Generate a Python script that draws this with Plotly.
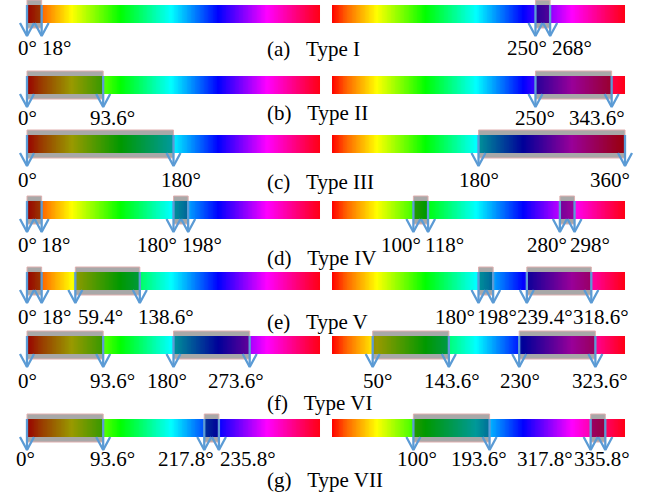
import numpy as np
import plotly.graph_objects as go

# ---------------- data ----------------
type_names = ["(a)\u00a0\u00a0\u00a0Type I", "(b)\u00a0\u00a0\u00a0Type II",
              "(c)\u00a0\u00a0\u00a0Type III", "(d)\u00a0\u00a0\u00a0Type IV",
              "(e)\u00a0\u00a0\u00a0Type V", "(f)\u00a0\u00a0\u00a0Type VI",
              "(g)\u00a0\u00a0\u00a0Type VII"]
left_regions = [
    [(0, 18)],
    [(0, 93.6)],
    [(0, 180)],
    [(0, 18), (180, 198)],
    [(0, 18), (59.4, 138.6)],
    [(0, 93.6), (180, 273.6)],
    [(0, 93.6), (217.8, 235.8)],
]
right_regions = [
    [(250, 268)],
    [(250, 343.6)],
    [(180, 360)],
    [(100, 118), (280, 298)],
    [(180, 198), (239.4, 318.6)],
    [(50, 143.6), (230, 323.6)],
    [(100, 193.6), (317.8, 335.8)],
]

# ---------------- layout / style ----------------
W, H = 645, 493
bar_top = [5, 76, 135, 201, 272, 336, 419]
bar_h = 18
box_pad = 5
tip_drop = 13
label_y = [48, 118, 180, 245, 317, 381, 459]
caption_y = [49, 113, 182, 258, 322, 403, 480]
caption_x = 265
# horizontal pixel shift of each edge label (start, end, start, end)
left_shift = [[0, 15], [0, 9], [0, 7], [0, 14, -17, 14], [0, 15, 25, 26],
              [0, 9, -7, -14], [-2, 9, -18, 29]]
right_shift = [[-8, 22], [0, -15], [0, -15], [-12, 16, -13, 15], [-24, 4, 18, 10],
               [5, 3, 1, 5], [4, -11, -46, -3]]

col_px = [(27, 320), (332, 625)]   # pixel span of 0..360 degrees
pad_deg = 20
FONT = "Liberation Serif, Times New Roman, serif"
ARROW_COLOR = "#5b9bd5"

hue_stops = [(0, (255, 0, 0)), (18, (255, 100, 0)), (55, (255, 255, 0)),
             (115, (0, 255, 0)), (177, (0, 255, 255)), (235, (0, 0, 255)),
             (295, (255, 0, 255)), (345, (255, 0, 70)), (360, (255, 0, 20))]


def scale(f):
    return [[h / 360, "rgb(%d,%d,%d)" % tuple(int(c * f) for c in rgb)] for h, rgb in hue_stops]


bright = scale(1.0)
dark = scale(0.6)

fig = go.Figure()
layout_axes = {}
shapes = []
annotations = []

cols = [("x", "xaxis", left_regions, left_shift), ("x2", "xaxis2", right_regions, right_shift)]
for ci, (xref, axname, regions, shifts) in enumerate(cols):
    p0, p1 = col_px[ci]
    ppd = (p1 - p0) / 360.0
    d0 = (p0 - pad_deg * ppd) / W
    d1 = (p1 + pad_deg * ppd) / W
    layout_axes[axname] = dict(domain=[d0, d1], range=[-pad_deg, 360 + pad_deg],
                               visible=False, fixedrange=True)
    wing = 7 / ppd
    ax_x, ax_y = [], []
    for ri in range(7):
        top = bar_top[ri]
        bot = top + bar_h
        edges = np.arange(0, 361, 1.0)
        centers = (edges[:-1] + edges[1:]) / 2
        fig.add_trace(go.Heatmap(x=edges, y=[top, bot], z=[centers], zmin=0, zmax=360,
                                 colorscale=bright, showscale=False, hoverinfo="skip",
                                 xaxis=xref, yaxis="y"))
        for k, (a, b) in enumerate(regions[ri]):
            e = np.linspace(a, b, max(int(b - a) + 1, 2))
            c = (e[:-1] + e[1:]) / 2
            fig.add_trace(go.Heatmap(x=e, y=[top, bot], z=[c], zmin=0, zmax=360,
                                     colorscale=dark, showscale=False, hoverinfo="skip",
                                     xaxis=xref, yaxis="y"))
            shapes.append(dict(type="rect", xref=xref, yref="y", x0=a, x1=b,
                               y0=top - box_pad, y1=bot + box_pad, layer="below",
                               fillcolor="#a8a8a8", line=dict(color="#e0b0b0", width=1)))
            for j, v in enumerate((a, b)):
                tip = bot + tip_drop
                ax_x += [v, v, None, v - wing, v, v + wing, None]
                ax_y += [top, tip, None, bot, tip, bot, None]
                annotations.append(dict(x=v, y=label_y[ri], xref=xref, yref="y",
                                        text="%g°" % v, showarrow=False,
                                        xshift=shifts[ri][2 * k + j],
                                        font=dict(family=FONT, size=21, color="black"),
                                        xanchor="center", yanchor="middle"))
    fig.add_trace(go.Scatter(x=ax_x, y=ax_y, mode="lines", xaxis=xref, yaxis="y",
                             line=dict(color=ARROW_COLOR, width=2.3), hoverinfo="skip",
                             showlegend=False))

for ri, name in enumerate(type_names):
    annotations.append(dict(x=caption_x / W, y=caption_y[ri], xref="paper", yref="y",
                            text=name, showarrow=False, xanchor="left", yanchor="middle",
                            font=dict(family=FONT, size=21, color="black")))

fig.update_layout(
    width=W, height=H,
    margin=dict(l=0, r=0, t=0, b=0),
    paper_bgcolor="white", plot_bgcolor="rgba(0,0,0,0)",
    showlegend=False,
    yaxis=dict(range=[H, 0], domain=[0, 1], visible=False, fixedrange=True),
    shapes=shapes, annotations=annotations,
    **layout_axes,
)

fig.write_html("out.html", config={"displayModeBar": False},
               post_script="document.body.style.margin='0px';document.body.style.overflow='hidden';")
